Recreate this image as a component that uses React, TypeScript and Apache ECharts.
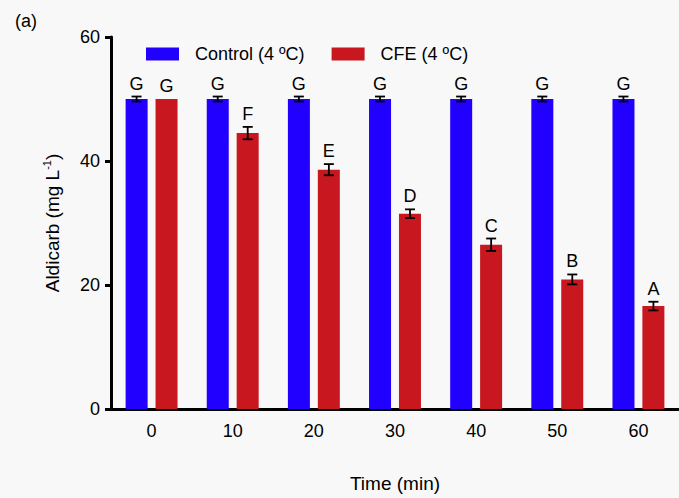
import React, { useEffect, useRef } from "react";
import * as echarts from "echarts";

const categories = ["0", "10", "20", "30", "40", "50", "60"];
const controlMeans = [50, 50, 50, 50, 50, 50, 50];
const controlErrors = [0.4, 0.4, 0.4, 0.4, 0.4, 0.4, 0.4];
const controlLetters = ["G", "G", "G", "G", "G", "G", "G"];
const cfeMeans = [50, 44.5, 38.6, 31.5, 26.5, 20.9, 16.6];
const cfeErrors = [0, 1.0, 0.9, 0.7, 1.0, 0.8, 0.7];
const cfeLetters = ["G", "F", "E", "D", "C", "B", "A"];
const yTicks = [0, 20, 40, 60];

const BLUE = "#2200ff";
const RED = "#c8171e";
const FONT = "Liberation Sans, Arial, sans-serif";

function lettersFor(name: string, idx: number) {
  return name === "errControl" ? controlLetters[idx] : cfeLetters[idx];
}

function makeRender(offset: number) {
  return (params: any, api: any) => {
    const idx = api.value(0);
    const mean = api.value(1);
    const err = api.value(2);
    const letter = lettersFor(params.seriesName, idx);
    const top = api.coord([idx, mean + err]);
    const bot = api.coord([idx, mean - err]);
    const x = top[0] + offset;
    const half = 5;
    const children: any[] = [];
    if (err > 0) {
      const st = { stroke: "#000", lineWidth: 1.8 };
      children.push({ type: "line", shape: { x1: x, y1: top[1], x2: x, y2: bot[1] }, style: st });
      children.push({ type: "line", shape: { x1: x - half, y1: top[1], x2: x + half, y2: top[1] }, style: st });
      children.push({ type: "line", shape: { x1: x - half, y1: bot[1], x2: x + half, y2: bot[1] }, style: st });
    }
    children.push({
      type: "text",
      style: {
        text: letter,
        x: x,
        y: top[1] - 4,
        textAlign: "center",
        textVerticalAlign: "bottom",
        fontSize: 18,
        fontFamily: FONT,
        fill: "#000",
      },
    });
    return { type: "group", children };
  };
}

export default function App() {
  const ref = useRef<HTMLDivElement>(null);
  useEffect(() => {
    if (!ref.current) return;
    const chart = echarts.init(ref.current, undefined, { renderer: "svg" });
    const ctrlData = categories.map((_, i) => [i, controlMeans[i], controlErrors[i]]);
    const cfeData = categories.map((_, i) => [i, cfeMeans[i], cfeErrors[i]]);
    chart.setOption({
      animation: false,
      backgroundColor: "#f8f8f8",
      textStyle: { fontFamily: FONT },
      graphic: [
        {
          type: "text",
          left: 15,
          top: 12,
          style: { text: "(a)", fontSize: 18, fontFamily: FONT, fill: "#000" },
        },
      ],
      legend: {
        top: 40,
        left: 141,
        itemWidth: 33,
        itemHeight: 13,
        itemGap: 27,
        icon: "rect",
        data: ["Control (4 ºC)", "CFE (4 ºC)"],
        textStyle: { fontSize: 18, color: "#000", fontFamily: FONT, padding: [0, 0, 0, 11] },
      },
      grid: { left: 111, right: 0, top: 37, bottom: 87 },
      xAxis: {
        type: "category",
        data: categories,
        name: "Time (min)",
        nameLocation: "middle",
        nameGap: 65,
        nameTextStyle: { fontSize: 19, color: "#000", fontFamily: FONT },
        axisLine: { lineStyle: { color: "#000", width: 3 } },
        axisTick: { alignWithLabel: true, length: 6, lineStyle: { width: 3, color: "#000" } },
        axisLabel: { fontSize: 18, color: "#000", margin: 13, fontFamily: FONT },
      },
      yAxis: {
        type: "value",
        min: yTicks[0],
        max: yTicks[yTicks.length - 1],
        interval: 20,
        name: "Aldicarb (mg L{sup|-1})",
        nameLocation: "middle",
        nameGap: 48,
        nameTextStyle: {
          fontSize: 19,
          color: "#000",
          fontFamily: FONT,
          rich: { sup: { fontSize: 11, verticalAlign: "top", lineHeight: 22, fontFamily: FONT, color: "#000" } },
        },
        axisLine: { show: true, lineStyle: { color: "#000", width: 3 } },
        axisTick: { show: true, length: 6, lineStyle: { width: 3, color: "#000" } },
        axisLabel: { fontSize: 18, color: "#000", margin: 11, fontFamily: FONT },
        splitLine: { show: false },
      },
      series: [
        {
          name: "Control (4 ºC)",
          type: "bar",
          data: controlMeans,
          barWidth: 22,
          barGap: "36%",
          itemStyle: { color: BLUE },
        },
        {
          name: "CFE (4 ºC)",
          type: "bar",
          data: cfeMeans,
          barWidth: 22,
          barGap: "36%",
          itemStyle: { color: RED },
        },
        {
          name: "errControl",
          type: "custom",
          data: ctrlData,
          encode: { x: 0, y: 1 },
          renderItem: makeRender(-15),
          z: 10,
        },
        {
          name: "errCFE",
          type: "custom",
          data: cfeData,
          encode: { x: 0, y: 1 },
          renderItem: makeRender(15),
          z: 10,
        },
      ],
    });
    return () => chart.dispose();
  }, []);
  return <div ref={ref} style={{ position: "fixed", left: 0, top: 0, width: 679, height: 498 }} />;
}
